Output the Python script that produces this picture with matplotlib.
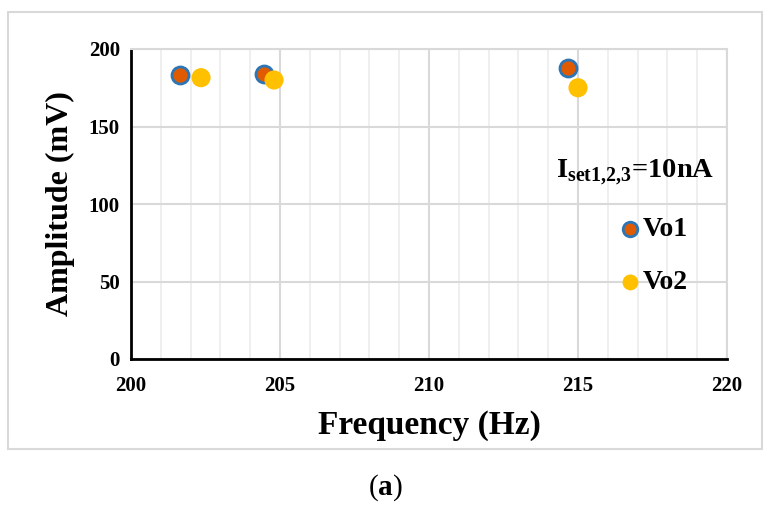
import numpy as np
import matplotlib.pyplot as plt
from matplotlib.patches import Rectangle

plt.rcParams['font.family'] = ['Liberation Serif', 'DejaVu Serif']
plt.rcParams['mathtext.fontset'] = 'custom'
plt.rcParams['mathtext.rm'] = 'Liberation Serif'
plt.rcParams['mathtext.bf'] = 'Liberation Serif:bold'

vo1_freq = [201.65, 204.45, 214.65]
vo1_amp = [183.3, 184.0, 188.0]
vo2_freq = [202.35, 204.8, 215.0]
vo2_amp = [181.5, 180.0, 175.0]

fig = plt.figure(figsize=(7.71, 5.05), dpi=100)
ax = fig.add_axes([131/771, 1-359/505, 596/771, 310/505])

# outer chart frame
fig.patches.append(Rectangle((8/771, 1-449/505), 754/771, 437/505, transform=fig.transFigure,
                             fill=False, edgecolor='#d9d9d9', linewidth=1.5))

ax.set_xlim(200, 220)
ax.set_ylim(0, 200)
ax.set_xticks(np.arange(200, 221, 5))
ax.set_xticks(np.arange(200, 221, 1), minor=True)
ax.set_yticks(np.arange(0, 201, 50))
ax.grid(True, which='major', color='#d9d9d9', linewidth=1.5)
ax.grid(True, which='minor', axis='x', color='#ececec', linewidth=1.2)
ax.tick_params(which='both', length=0)
ax.tick_params(axis='x', pad=12)
ax.tick_params(axis='y', pad=8)
for lbl in ax.get_xticklabels() + ax.get_yticklabels():
    lbl.set_fontweight('bold')
    lbl.set_fontsize(15)

for s in ['top', 'right']:
    ax.spines[s].set_color('#d9d9d9')
    ax.spines[s].set_linewidth(1.5)
for s in ['left', 'bottom']:
    ax.spines[s].set_color('black')
    ax.spines[s].set_linewidth(2)

ax.scatter(vo1_freq, vo1_amp, s=150, color='#e05a00', edgecolors='#2e75b6', linewidths=2, zorder=3)
ax.scatter(vo2_freq, vo2_amp, s=190, color='#ffc000', edgecolors='none', zorder=4)

ax.set_xlabel('Frequency (Hz)', fontsize=24, fontweight='bold', labelpad=10)
ax.set_ylabel('Amplitude (mV)', fontsize=23, fontweight='bold', labelpad=10)

# legend-style labels
ax.text(0.713, 0.6, r'I$_{\mathbf{set1{,}2{,}3}}$=10nA', transform=ax.transAxes,
        fontsize=20.5, fontweight='bold', va='center', ha='left')
ax.scatter([0.838], [0.418], s=110, color='#e05a00', edgecolors='#2e75b6', linewidths=2,
           transform=ax.transAxes, clip_on=False, zorder=5)
ax.text(0.858, 0.418, 'Vo1', transform=ax.transAxes, fontsize=20, fontweight='bold', va='center')
ax.scatter([0.838], [0.247], s=130, color='#ffc000', edgecolors='none',
           transform=ax.transAxes, clip_on=False, zorder=5)
ax.text(0.858, 0.247, 'Vo2', transform=ax.transAxes, fontsize=20, fontweight='bold', va='center')

fig.text(385/771, 1-488/505, r'($\mathbf{a}$)', fontsize=21, ha='center', va='center')

fig.savefig('out.png', dpi=100)
